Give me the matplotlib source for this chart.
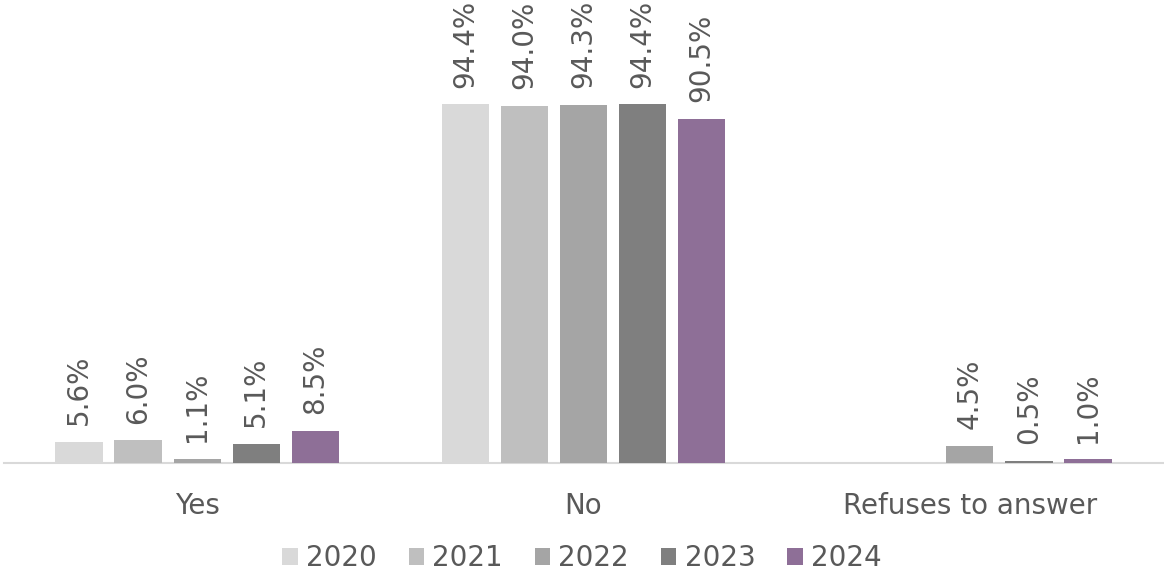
import numpy as np
import matplotlib
matplotlib.use("Agg")
import matplotlib.pyplot as plt
from matplotlib.patches import Patch

# Data
categories = ["Yes", "No", "Refuses to answer"]
years = ["2020", "2021", "2022", "2023", "2024"]
v2020 = [5.6, 94.4, None]
v2021 = [6.0, 94.0, None]
v2022 = [1.1, 94.3, 4.5]
v2023 = [5.1, 94.4, 0.5]
v2024 = [8.5, 90.5, 1.0]
series = [v2020, v2021, v2022, v2023, v2024]
colors = ["#D9D9D9", "#BFBFBF", "#A5A5A5", "#7F7F7F", "#8E6F97"]

plt.rcParams['font.family'] = ['DejaVu Sans']
text_color = "#595959"
fs = 20

fig = plt.figure(figsize=(11.64, 5.73), dpi=100)
ax = fig.add_axes([4 / 1164, (573 - 463) / 573, 1159 / 1164, 380 / 573])

x = np.arange(len(categories))
step = 0.153
width = 0.122
for j, (vals, col) in enumerate(zip(series, colors)):
    for i, v in enumerate(vals):
        if v is None:
            continue
        xpos = x[i] + (j - 2) * step
        ax.bar(xpos, v, width=width, color=col, zorder=2)
        ax.annotate(f"{v:.1f}%", (xpos, v), xytext=(0, 12), textcoords="offset points",
                    rotation=90, ha="center", va="bottom", fontsize=fs,
                    color=text_color, annotation_clip=False)

ax.set_xlim(-0.5, 2.5)
ax.set_ylim(0, 100)
ax.set_xticks(x)
ax.set_xticklabels(categories, fontsize=fs, color=text_color)
ax.tick_params(axis="x", length=0, pad=21)
ax.set_yticks([])
for s in ["top", "right", "left"]:
    ax.spines[s].set_visible(False)
ax.spines["bottom"].set_color("#D9D9D9")
ax.spines["bottom"].set_linewidth(1.5)
ax.spines["bottom"].set_zorder(1)

handles = [Patch(facecolor=c, edgecolor="none") for c in colors]
fig.legend(handles, years, loc="center", bbox_to_anchor=(0.5, (573 - 558) / 573),
           ncol=5, frameon=False, fontsize=fs, labelcolor=text_color,
           handlelength=0.55, handleheight=0.55, handletextpad=0.3, columnspacing=1.15)

fig.savefig("out.png", dpi=100)
